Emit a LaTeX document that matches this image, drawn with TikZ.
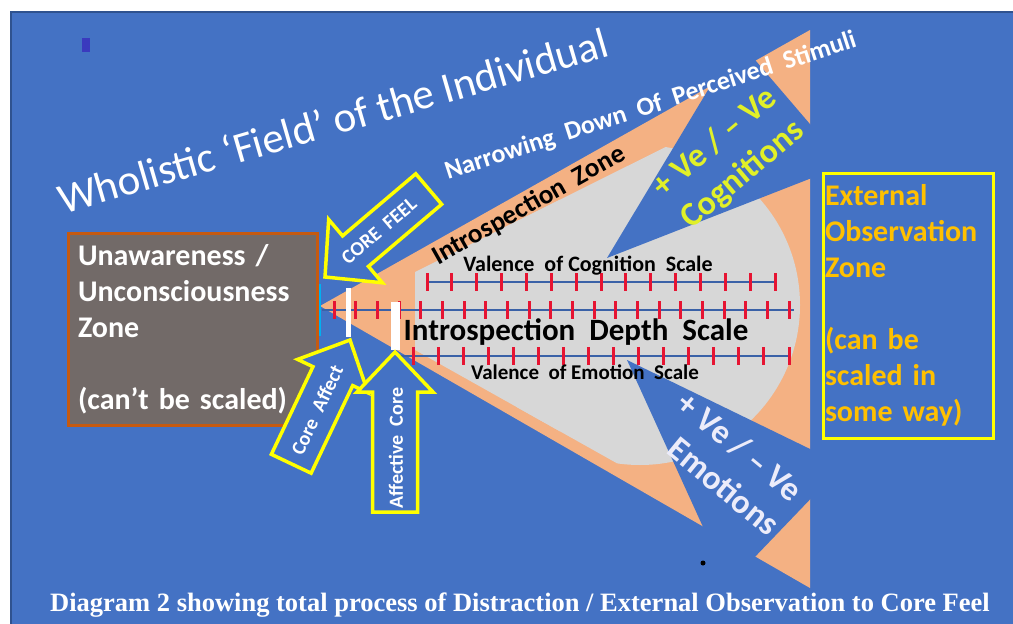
\documentclass[tikz,border=0pt]{standalone}
\usepackage{fontspec}
\setmainfont{Carlito}
\newfontfamily\captionfont{Liberation Serif}
\usetikzlibrary{calc}
\definecolor{slideblue}{RGB}{68,114,196}
\definecolor{edgeblue}{RGB}{47,82,143}
\definecolor{inkblue}{RGB}{58,58,190}
\definecolor{peach}{RGB}{244,177,131}
\definecolor{mist}{RGB}{215,215,215}
\definecolor{tickred}{RGB}{230,20,50}
\definecolor{boxgrey}{RGB}{114,106,104}
\definecolor{rust}{RGB}{197,90,17}
\definecolor{gold}{RGB}{255,192,0}
\definecolor{lemon}{RGB}{255,255,0}
\definecolor{limeyellow}{RGB}{225,240,40}
\definecolor{lavender}{RGB}{236,236,250}
\definecolor{cyanbar}{RGB}{0,176,240}
\newcommand\fsz[2]{\fontsize{#1}{#2}\selectfont}
% block arrow: tip, angle towards tail, length, shaft width, head width
\newcommand\feelarrow[5]{
  \begin{scope}[shift={#1},rotate=#2]
    \draw [arrowbox] (0,0) -- (40,#5/2) -- (40,#4/2) -- (#3,#4/2)
      -- (#3,-#4/2) -- (40,-#4/2) -- (40,-#5/2) -- cycle;
  \end{scope}
}

\begin{document}
\begin{tikzpicture}[x=1pt,y=-1pt,every node/.style={inner sep=1pt},
  arrowbox/.style={draw=lemon,line width=3.5pt,fill=slideblue,line join=miter},
  tick/.style={tickred,line width=3pt},
  scaleline/.style={slideblue!85!black,line width=2.5pt},
  zonebox/.style={line width=3pt,font=\bfseries\fsz{30}{36},align=left}]
  \useasboundingbox (0,0) rectangle (1013,624);
  \fill [white] (0,0) rectangle (1013,624);
  \fill [slideblue] (11,12) rectangle (1013,624);
  \draw [edgeblue,line width=1.2pt] (11,624) -- (11,12) -- (1013,12);
  \fill [inkblue] (82,38) rectangle (90,52);

  % cone and introspection zone
  \fill [peach] (320,306) -- (810,30) -- (810,588) -- cycle;
  \begin{scope}
    \clip (415,272) -- (850,55) -- (850,594) -- (415,350) -- cycle;
    \fill [mist] (415,0) rectangle (560,624);
    \fill [mist] (640,305) circle (160);
  \end{scope}
  \fill [slideblue] (607,258) -- (738,40) -- (845,165) -- cycle;
  \fill [slideblue] (627,360) -- (843,465) -- (729,584) -- cycle;

  % scales
  \draw [scaleline] (427,282) -- (775,282);
  \foreach \i in {0,...,14}
    \draw [tick] ({427+\i*24.86},273) -- ++(0,18);
  \draw [scaleline] (322,310) -- (794,310);
  \foreach \i in {0,...,21}
    \draw [tick] ({334+\i*21.67},301) -- ++(0,18);
  \draw [scaleline] (399,356) -- (790,356);
  \foreach \i in {0,...,15}
    \draw [tick] ({413+\i*25.07},347) -- ++(0,18);

  \fill [white] (345.5,288) rectangle (350.5,337);
  \fill [white] (391,302) rectangle (400,350);
  \draw [cyanbar,line width=2.5pt] (320,284) -- (320,336);

  \node [font=\bfseries\fsz{22}{26}] (cogscale) at (588,266) {Valence\ \ of Cognition\ \ Scale};
  \node [font=\bfseries\fsz{31}{37}] (depthscale) at (576,332) {Introspection\ \ Depth\ \ Scale};
  \node [font=\bfseries\fsz{21}{25}] (emoscale) at (585,372) {Valence\ \ of Emotion\ \ Scale};
  \node [font=\bfseries\fsz{27}{32},rotate=29.4,anchor=base west] (izone) at (437,266) {Introspection\ \ Zone};

  % titles
  \node [white,font=\fsz{43}{50},rotate=16.2,anchor=base west] (title) at (62,215)
    {Wholistic `Field' of the Individual};
  \node [white,font=\bfseries\fsz{26}{31},rotate=18,anchor=base west] (narrow) at (447,180)
    {Narrowing\ \ Down\ \ Of\ \ Perceived\ \ Stimuli};

  % valence banners
  \node [limeyellow,font=\bfseries\fsz{34}{42},rotate=40,align=center] (cogn) at (729,159)
    {+ Ve / -- Ve\\Cognitions};
  \node [lavender,font=\bfseries\fsz{34}{42},rotate=-39.5] (emotsign) at (740,447) {+ Ve / -- Ve};
  \node [lavender,font=\bfseries\fsz{34}{42},rotate=-39.5] (emot) at (724,486) {Emotions};

  % zones
  \node [zonebox,draw=rust,fill=boxgrey,text=white,minimum width=249pt,minimum height=192pt,
    text width=229pt] (unaware) at (192.5,329)
    {Unawareness /\\Unconsciousness\\Zone\\[36pt](can't be scaled)};
  \node [zonebox,draw=lemon,text=gold,minimum width=170pt,minimum height=265pt,
    text width=166pt] (external) at (908,305.5)
    {External\\Observation\\Zone\\[36pt](can be\\scaled in\\some way)};

  % arrows
  \feelarrow{(325,277)}{40.3}{136}{40}{83}
  \node [white,font=\bfseries\fsz{20}{24},rotate=40.3] (corefeel) at (379,231) {CORE\ \ FEEL};
  \feelarrow{(350,340)}{244.6}{137}{44}{78}
  \node [white,font=\bfseries\fsz{20}{24},rotate=64.6] (coreaffect) at (317,410) {Core\ \ Affect};
  \feelarrow{(395,352)}{270}{160}{45}{76}
  \node [white,font=\bfseries\fsz{20}{24},rotate=90] (affcore) at (396,448) {Affective\ \ Core};

  \fill [black] (703,563) circle (2.5);

  \node [white,font=\captionfont\bfseries\fsz{26.5}{30}] (caption) at (520,605)
    {Diagram 2 showing total process of Distraction / External Observation to Core Feel};
\end{tikzpicture}
\end{document}
